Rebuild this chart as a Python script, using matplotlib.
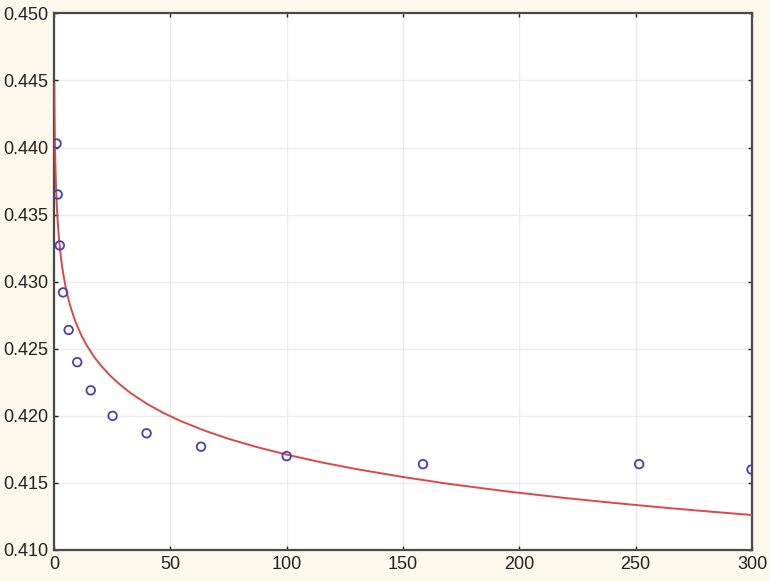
import numpy as np
import matplotlib.pyplot as plt

plt.rcParams['font.family'] = ['Liberation Sans', 'DejaVu Sans']

# measured points
x_points = [1.1, 1.6, 2.5, 3.9, 6.3, 10, 15.8, 25.2, 39.8, 63.2, 100, 158.6, 251.5, 299.8]
y_points = [0.4403, 0.4365, 0.4327, 0.4292, 0.4264, 0.4240, 0.4219, 0.4200,
            0.4187, 0.4177, 0.4170, 0.4164, 0.4164, 0.4160]

# fitted curve
x_curve = [0.15, 0.2, 0.25, 0.3, 0.4, 0.5, 0.6, 0.75, 1, 1.25, 1.5, 2, 2.5, 3,
           3.5, 4, 5, 6, 7, 8.5, 10, 12, 14, 17, 20, 24, 28, 33, 40, 47, 55,
           65, 75, 87, 100, 115, 130, 150, 170, 195, 220, 240, 260, 280, 300]
y_curve = [0.44476, 0.44349, 0.44251, 0.44172, 0.44047, 0.43950, 0.43871,
           0.43774, 0.43650, 0.43554, 0.43476, 0.43352, 0.43257, 0.43179,
           0.43114, 0.43057, 0.42962, 0.42885, 0.42819, 0.42738, 0.42669,
           0.42592, 0.42528, 0.42446, 0.42378, 0.42302, 0.42238, 0.42169,
           0.42089, 0.42022, 0.41957, 0.41888, 0.41829, 0.41768, 0.41711,
           0.41653, 0.41603, 0.41544, 0.41492, 0.41436, 0.41387, 0.41352,
           0.41319, 0.41289, 0.41261]

x_ticks = [0, 50, 100, 150, 200, 250, 300]
y_ticks = [0.410, 0.415, 0.420, 0.425, 0.430, 0.435, 0.440, 0.445, 0.450]

figure = plt.figure(figsize=(7.7, 5.82), dpi=100, facecolor='#fdf8ec')
ax = figure.add_axes([0.0701, 0.055, 0.9065, 0.922])
ax.set_facecolor('white')

ax.plot(x_curve, y_curve, color='#d9484b', linewidth=1.4, zorder=3)
ax.scatter(x_points, y_points, s=38, facecolors='none', edgecolors='#4a3fb0',
           linewidths=1.3, zorder=4)

ax.set_xlim(0, 300)
ax.set_ylim(0.410, 0.450)
ax.set_xticks(x_ticks)
ax.set_yticks(y_ticks)
ax.set_yticklabels([f'{v:.3f}' for v in y_ticks])
ax.grid(True, color='#ebebeb', linewidth=1.0, zorder=0)
ax.tick_params(direction='in', length=3, width=1, top=True, right=True,
               labelsize=13, colors='#222222', pad=4)
for s in ax.spines.values():
    s.set_color('#4a4a4a')
    s.set_linewidth(1.6)

plt.savefig('out.png', dpi=100, facecolor=figure.get_facecolor())
